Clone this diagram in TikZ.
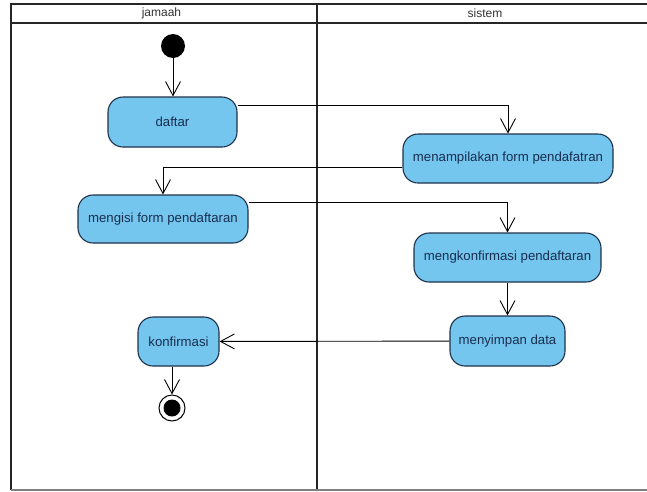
\documentclass[tikz,border=0pt]{standalone}
\usepackage{fontspec}
\setmainfont{Liberation Sans}
\usetikzlibrary{arrows.meta}

\definecolor{actfill}{RGB}{116,198,238}
\definecolor{actline}{RGB}{30,50,75}
\definecolor{acttext}{RGB}{25,45,80}

\begin{document}
\begin{tikzpicture}[x=1pt,y=-1pt,
  lane/.style={line width=1.8pt, draw=black!85},
  act/.style={draw=actline, fill=actfill, line width=1.1pt, rounded corners=15pt,
    inner sep=0pt, text=acttext, font=\fontsize{13.2}{15}\selectfont},
  flow/.style={line width=0.9pt, -{Straight Barb[length=14pt,width=15pt]}},
  head/.style={font=\fontsize{12}{14}\selectfont, text=black!80}]

\useasboundingbox (0,0) rectangle (647,491);

% swimlanes
\draw[lane] (11,490) -- (11,4) -- (647,4);
\draw[lane] (11,23) -- (647,23);
\draw[lane] (317,4) -- (317,490);
\draw[gray, line width=1.2pt] (11,490) -- (647,490);

\node[head] (jamaah) at (161.5,13.5) {jamaah};
\node[head] (sistem) at (485,13.5) {sistem};

% start and end
\node[circle, fill=black, minimum size=24pt, inner sep=0pt] (mulai) at (173,46) {};
\node[circle, draw=black, line width=1pt, fill=white, minimum size=26pt, inner sep=0pt] (akhir) at (172,408) {};
\node[circle, fill=black, minimum size=17pt, inner sep=0pt] (akhirdot) at (akhir) {};

% activities
\node[act, minimum width=129pt, minimum height=50pt] (daftar) at (172.5,122) {daftar};
\node[act, minimum width=210pt, minimum height=49pt] (tampil) at (508,158.5) {menampilakan form pendafatran};
\node[act, minimum width=170pt, minimum height=48pt] (isi) at (163,219) {mengisi form pendaftaran};
\node[act, minimum width=187pt, minimum height=49pt] (cek) at (507.5,257.5) {mengkonfirmasi pendaftaran};
\node[act, minimum width=115pt, minimum height=50pt] (simpan) at (507.5,341) {menyimpan data};
\node[act, minimum width=81pt, minimum height=49pt] (konfirmasi) at (178.5,341.5) {konfirmasi};

% flows
\draw[flow] (mulai) -- (mulai |- daftar.north);
\draw[flow] ([yshift=17pt]daftar.east) -| (tampil.north);
\draw[flow] ([yshift=-8.5pt]tampil.west) -| (isi.north);
\draw[flow] ([yshift=17pt]isi.east) -| (cek.north);
\draw[flow] (cek) -- (simpan);
\draw[flow] (simpan) -- (konfirmasi);
\draw[flow] (konfirmasi.south -| akhir) -- (akhir);

\end{tikzpicture}
\end{document}
